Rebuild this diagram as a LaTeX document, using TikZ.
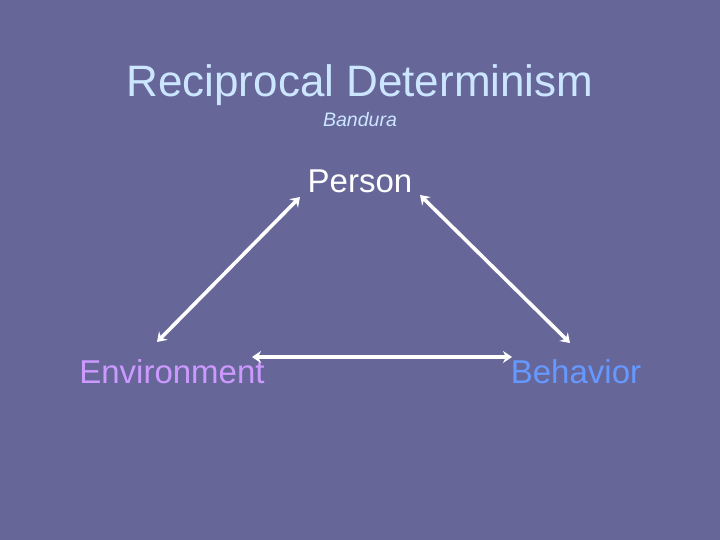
\documentclass[tikz,border=0pt]{standalone}
\usepackage{fontspec}
\setmainfont{Liberation Sans}
\usetikzlibrary{arrows.meta}
\definecolor{bg}{HTML}{666699}
\definecolor{titlec}{HTML}{CCE6FF}
\definecolor{envc}{HTML}{CC99FF}
\definecolor{behc}{HTML}{6699FF}
\begin{document}
\begin{tikzpicture}[x=1pt,y=-1pt,
  lbl/.style={inner sep=0pt,anchor=base},
  link/.style={draw=white,line width=3.6pt,{Stealth[length=9pt,width=12pt,inset=3pt]}-{Stealth[length=9pt,width=12pt,inset=3pt]}}]
\fill[bg] (0,0) rectangle (720,540);
\useasboundingbox (0,0) rectangle (720,540);
\node[lbl,text=titlec,font=\fontsize{44}{48}\selectfont] (title) at (360,97) {Reciprocal Determinism};
\node[lbl,text=titlec,font=\fontsize{19.5}{22}\selectfont\itshape] (sub) at (360,127) {Bandura};
\node[lbl,text=white,font=\fontsize{33}{36}\selectfont] (person) at (360,193) {Person};
\node[lbl,text=envc,font=\fontsize{33}{36}\selectfont] (env) at (172,383) {Environment};
\node[lbl,text=behc,font=\fontsize{33}{36}\selectfont] (beh) at (576,383) {Behavior};
\coordinate (pl) at (300,197);
\coordinate (pr) at (420,195);
\coordinate (et) at (157,342);
\coordinate (er) at (252,357);
\coordinate (bt) at (570,343);
\coordinate (bl) at (512,357);
\draw[link] (et) -- (pl);
\draw[link] (pr) -- (bt);
\draw[link] (er) -- (bl);
\end{tikzpicture}
\end{document}
